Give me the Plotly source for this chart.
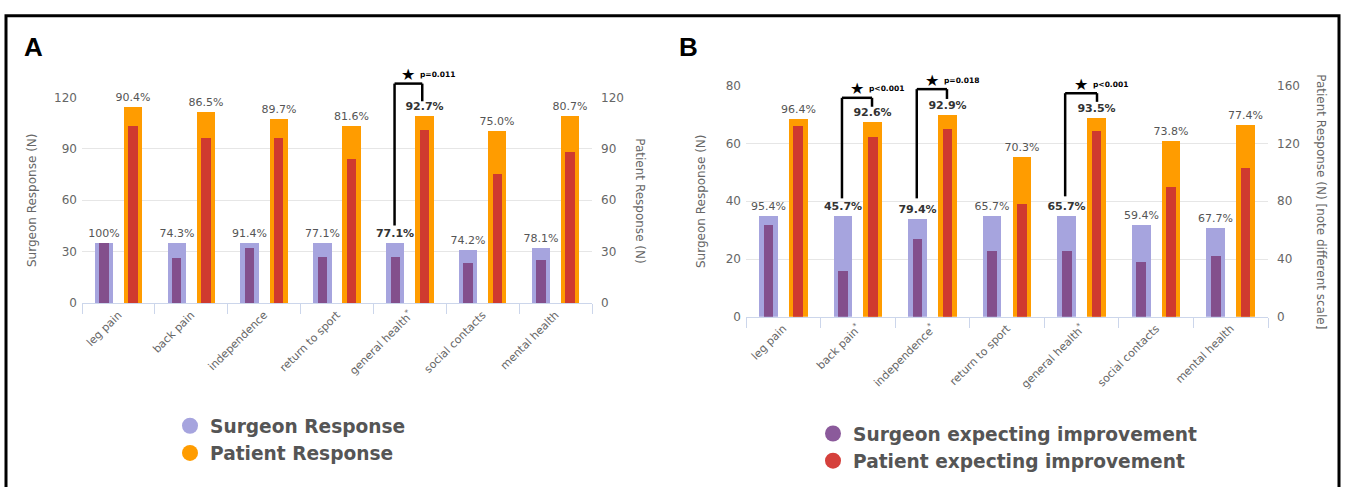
import plotly.graph_objects as go

W, H = 1348, 487

# ---------------- data ----------------
categories_a = ["leg pain", "back pain", "independence", "return to sport",
                "general health<sup>*</sup>", "social contacts", "mental health"]
surgeon_response_a = [35, 35, 35, 35, 35, 31, 32]
surgeon_expect_a = [35, 26, 32, 27, 27, 23, 25]
patient_response_a = [114, 111, 107, 103, 109, 100, 109]
patient_expect_a = [103, 96, 96, 84, 101, 75, 88]
surgeon_pct_a = ["100%", "74.3%", "91.4%", "77.1%", "77.1%", "74.2%", "78.1%"]
patient_pct_a = ["90.4%", "86.5%", "89.7%", "81.6%", "92.7%", "75.0%", "80.7%"]
significant_a = [False, False, False, False, True, False, False]

categories_b = ["leg pain", "back pain<sup>*</sup>", "independence<sup>*</sup>", "return to sport",
                "general health<sup>*</sup>", "social contacts", "mental health"]
surgeon_response_b = [35, 35, 34, 35, 35, 32, 31]
surgeon_expect_b = [32, 16, 27, 23, 23, 19, 21]
patient_response_b = [137, 135, 140, 111, 138, 122, 133]
patient_expect_b = [132, 125, 130, 78, 129, 90, 103]
surgeon_pct_b = ["95.4%", "45.7%", "79.4%", "65.7%", "65.7%", "59.4%", "67.7%"]
patient_pct_b = ["96.4%", "92.6%", "92.9%", "70.3%", "93.5%", "73.8%", "77.4%"]
significant_b = [False, True, True, False, True, False, False]

pvalues_a = {4: "p=0.011"}
pvalues_b = {1: "p&lt;0.001", 2: "p=0.018", 4: "p&lt;0.001"}

RANGE_A = 120
RANGE_B = 80

# ---------------- styling ----------------
LAVENDER = "#a6a4de"
PURPLE = "#834f8c"
ORANGE = "#ff9c00"
RED = "#cf3a2f"
GRID = "#e6e6e6"
AXLINE = "#ccd6eb"
TXT = "#666666"
FONT = "DejaVu Sans"

OUT_W, IN_W, SHIFT = 0.25, 0.13, 0.2


def px(x):
    return x / W


def py(y):
    return 1 - y / H


def fmt(labels, sig):
    return [f"<b>{t}</b>" if s else t for t, s in zip(labels, sig)]


def colors(sig):
    return ["#333333" if s else "#555555" for s in sig]


fig = go.Figure()


def add_panel(cats, s_resp, s_exp, p_resp, p_exp, s_pct, p_pct, sig, xa, ya, ya2):
    common = dict(x=cats, xaxis=xa, showlegend=False, hoverinfo="skip")
    fig.add_trace(go.Bar(y=s_resp, yaxis=ya, width=OUT_W, offset=-SHIFT - OUT_W / 2,
                         marker=dict(color=LAVENDER, line=dict(width=0)),
                         text=fmt(s_pct, sig), textposition="outside", textangle=0,
                         constraintext="none", cliponaxis=False,
                         textfont=dict(family=FONT, size=11, color=colors(sig)), **common))
    fig.add_trace(go.Bar(y=s_exp, yaxis=ya, width=IN_W, offset=-SHIFT - IN_W / 2,
                         marker=dict(color=PURPLE, line=dict(width=0)), **common))
    fig.add_trace(go.Bar(y=p_resp, yaxis=ya2, width=OUT_W, offset=SHIFT - OUT_W / 2,
                         marker=dict(color=ORANGE, line=dict(width=0)),
                         text=fmt(p_pct, sig), textposition="outside", textangle=0,
                         constraintext="none", cliponaxis=False,
                         textfont=dict(family=FONT, size=11, color=colors(sig)), **common))
    fig.add_trace(go.Bar(y=p_exp, yaxis=ya2, width=IN_W, offset=SHIFT - IN_W / 2,
                         marker=dict(color=RED, line=dict(width=0)), **common))


add_panel(categories_a, surgeon_response_a, surgeon_expect_a, patient_response_a,
          patient_expect_a, surgeon_pct_a, patient_pct_a, significant_a, "x", "y", "y2")
add_panel(categories_b, surgeon_response_b, surgeon_expect_b, patient_response_b,
          patient_expect_b, surgeon_pct_b, patient_pct_b, significant_b, "x2", "y3", "y4")

# legend entries
fig.add_trace(go.Scatter(x=[None], y=[None], mode="markers", name="Surgeon Response",
                         marker=dict(size=16, color=LAVENDER), xaxis="x", yaxis="y", legend="legend"))
fig.add_trace(go.Scatter(x=[None], y=[None], mode="markers", name="Patient Response",
                         marker=dict(size=16, color=ORANGE), xaxis="x", yaxis="y", legend="legend"))
fig.add_trace(go.Scatter(x=[None], y=[None], mode="markers", name="Surgeon expecting improvement",
                         marker=dict(size=16, color="#8b5a9b"), xaxis="x2", yaxis="y3", legend="legend2"))
fig.add_trace(go.Scatter(x=[None], y=[None], mode="markers", name="Patient expecting improvement",
                         marker=dict(size=16, color="#d5403c"), xaxis="x2", yaxis="y3", legend="legend2"))

xcommon = dict(type="category", tickangle=-45, tickson="boundaries", ticks="outside",
               ticklen=10, tickcolor=AXLINE, showline=True, linecolor=AXLINE, linewidth=1,
               tickfont=dict(family=FONT, size=11, color=TXT), showgrid=False, fixedrange=True)
ycommon = dict(showline=False, ticks="", zeroline=False, fixedrange=True,
               tickfont=dict(family=FONT, size=12, color=TXT))

legend_font = dict(family=FONT, size=18.6, color="#555555", weight="bold")

fig.update_layout(
    width=W, height=H, margin=dict(l=0, r=0, t=0, b=0),
    paper_bgcolor="white", plot_bgcolor="white",
    barmode="overlay", bargap=0,
    xaxis=dict(domain=[px(82), px(592)], anchor="y", **xcommon),
    yaxis=dict(domain=[py(305), py(93)], range=[0, RANGE_A], dtick=30, showgrid=True,
               gridcolor=GRID, anchor="x", ticklabelstandoff=4,
               title=dict(text="Surgeon Response (N)", standoff=14,
                          font=dict(family=FONT, size=12, color=TXT)), **ycommon),
    yaxis2=dict(overlaying="y", side="right", range=[0, 120], dtick=30, showgrid=False,
                anchor="x", ticklabelstandoff=8, **ycommon),
    xaxis2=dict(domain=[px(746), px(1268)], anchor="y3", **xcommon),
    yaxis3=dict(domain=[py(319), py(81)], range=[0, RANGE_B], dtick=20, showgrid=True,
                gridcolor=GRID, anchor="x2", ticklabelstandoff=4,
                title=dict(text="Surgeon Response (N)", standoff=17,
                           font=dict(family=FONT, size=12, color=TXT)), **ycommon),
    yaxis4=dict(overlaying="y3", side="right", range=[0, 160], dtick=40, showgrid=False,
                anchor="x2", ticklabelstandoff=8, **ycommon),
    legend=dict(x=px(170), y=py(412), xanchor="left", yanchor="top", font=legend_font,
                bgcolor="rgba(0,0,0,0)", itemclick=False, itemdoubleclick=False),
    legend2=dict(x=px(813), y=py(420), xanchor="left", yanchor="top", font=legend_font,
                 bgcolor="rgba(0,0,0,0)", itemclick=False, itemdoubleclick=False),
)

shapes = []
annotations = []

# outer frame
shapes.append(dict(type="rect", xref="paper", yref="paper", x0=px(6), x1=px(1339),
                   y0=-0.05, y1=py(9), line=dict(color="black", width=3)))

# panel letters
annotations.append(dict(text="<b>A</b>", xref="paper", yref="paper", x=px(22), y=py(24),
                        xanchor="left", yanchor="top", showarrow=False,
                        font=dict(family="Liberation Sans", size=26, color="black")))
annotations.append(dict(text="<b>B</b>", xref="paper", yref="paper", x=px(677), y=py(24),
                        xanchor="left", yanchor="top", showarrow=False,
                        font=dict(family="Liberation Sans", size=26, color="black")))

# right axis titles (read top to bottom)
annotations.append(dict(text="Patient Response (N)", xref="paper", yref="paper",
                        x=px(640), y=py(199), textangle=90, showarrow=False,
                        xanchor="center", yanchor="middle",
                        font=dict(family=FONT, size=12, color=TXT)))
annotations.append(dict(text="Patient Response (N) [note different scale]", xref="paper",
                        yref="paper", x=px(1321), y=py(200), textangle=90, showarrow=False,
                        xanchor="center", yanchor="middle",
                        font=dict(family=FONT, size=12, color=TXT)))

# significance brackets: (category, left dx, right dx, left bottom, top, right bottom)
brackets_a = [(4, -0.21, 0.17, 45.3, 128.0, 117.7)]
brackets_b = [(1, -0.213, 0.19, 41.0, 75.8, 72.7),
              (2, -0.21, 0.195, 41.0, 78.8, 75.4),
              (4, -0.22, 0.207, 41.7, 77.4, 74.4)]


def add_brackets(brackets, pvals, xname, yname, ncat, yrange):
    xref, yref = f"{xname} domain", f"{yname} domain"

    def fx(v):
        return (v + 0.5) / ncat

    def fy(v):
        return v / yrange

    for cat, dl, dr, yb, yt, yr in brackets:
        xl, xr = fx(cat + dl), fx(cat + dr)
        line = dict(color="black", width=2.5)
        shapes.append(dict(type="line", xref=xref, yref=yref, x0=xl, x1=xl,
                           y0=fy(yb), y1=fy(yt), line=line))
        shapes.append(dict(type="line", xref=xref, yref=yref, x0=xl, x1=xr,
                           y0=fy(yt), y1=fy(yt), line=line))
        shapes.append(dict(type="line", xref=xref, yref=yref, x0=xr, x1=xr,
                           y0=fy(yt), y1=fy(yr), line=line))
        xm = (xl + xr) / 2
        annotations.append(dict(text="★", xref=xref, yref=yref, x=xm, y=fy(yt), yshift=9,
                                xanchor="center", yanchor="middle", showarrow=False,
                                font=dict(family=FONT, size=16, color="black")))
        annotations.append(dict(text=f"<b>{pvals[cat]}</b>", xref=xref, yref=yref,
                                x=xm + 0.13 / ncat, y=fy(yt), yshift=9, xanchor="left",
                                yanchor="middle", showarrow=False,
                                font=dict(family=FONT, size=7.5, color="black")))


add_brackets(brackets_a, pvalues_a, "x", "y", len(categories_a), RANGE_A)
add_brackets(brackets_b, pvalues_b, "x2", "y3", len(categories_b), RANGE_B)

fig.update_layout(shapes=shapes, annotations=annotations)
fig.write_html("out.html", config={"displayModeBar": False},
               post_script="document.body.style.margin='0';document.body.style.padding='0';")
